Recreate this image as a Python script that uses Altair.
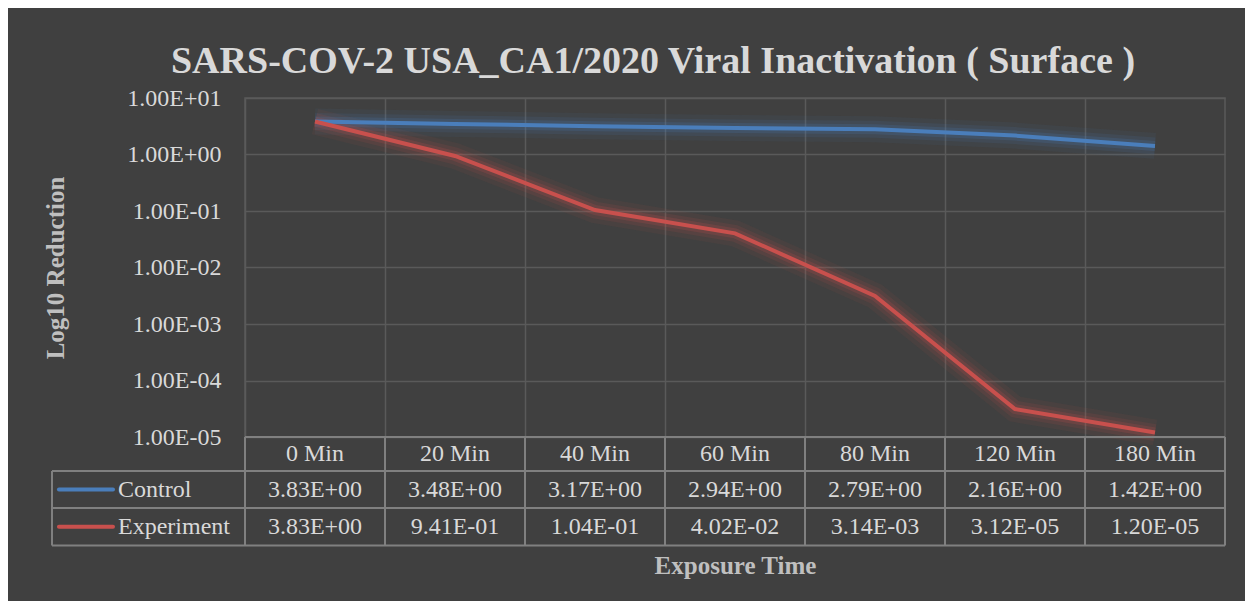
import json
import altair as alt
import pandas as pd

# ---------------- data ----------------
categories = ["0 Min", "20 Min", "40 Min", "60 Min", "80 Min", "120 Min", "180 Min"]
control = [3.83, 3.48, 3.17, 2.94, 2.79, 2.16, 1.42]
experiment = [3.83, 0.941, 0.104, 0.0402, 0.00314, 3.12e-5, 1.20e-5]
series_names = ["Control", "Experiment"]
series_colors = ["#4a7ebb", "#c8504d"]
tick_values = [1e-5, 1e-4, 1e-3, 1e-2, 1e-1, 1, 10]
tick_labels = ["1.00E-05", "1.00E-04", "1.00E-03", "1.00E-02", "1.00E-01", "1.00E+00", "1.00E+01"]
chart_title = "SARS-COV-2 USA_CA1/2020 Viral Inactivation ( Surface )"
x_title = "Exposure Time"
y_title = "Log10 Reduction"

# ---------------- style / layout ----------------
FONT = "Liberation Serif"
BG = "#404040"
TXT = "#d9d9d9"
TITLE_TXT = "#bfbfbf"
GRID = "#5a5a5a"
TABLE_LINE = "#808080"
W, H = 980, 339
LEG_W = 193
ROW_PX = [0, 34, 71, 108.5]          # table row boundaries below plot (px)
SW_X0, SW_X1, LABEL_X = -0.964, -0.684, -0.658

series_values = [control, experiment]
rows = []
for name, vals in zip(series_names, series_values):
    for c, v in zip(categories, vals):
        rows.append({"category": c, "series": name, "value": v})
df = pd.DataFrame(rows)

color_scale = alt.Scale(domain=series_names, range=series_colors)

x_enc = alt.X(
    "category:N",
    sort=categories,
    scale=alt.Scale(type="band", domain=categories, paddingInner=0, paddingOuter=0),
    axis=alt.Axis(
        title=x_title, labels=False, ticks=False, domain=False,
        grid=True, bandPosition=0, gridColor=GRID, gridWidth=1.5,
        titleFont=FONT, titleFontSize=25, titleFontWeight="bold", titleColor=TITLE_TXT,
        titleBaseline="alphabetic", titleY=136,
    ),
)
label_expr = f"{json.dumps(tick_labels)}[indexof({json.dumps(tick_values)}, datum.value)]"
y_enc = alt.Y(
    "value:Q",
    scale=alt.Scale(type="log", domain=[1e-5, 10], nice=False),
    axis=alt.Axis(
        values=tick_values, labelExpr=label_expr,
        grid=True, gridColor=GRID, gridWidth=1.5, domain=False, ticks=False,
        labelFont=FONT, labelFontSize=24, labelColor=TXT, labelPadding=24,
        labelBaseline="middle",
        title=y_title, titleFont=FONT, titleFontSize=25, titleFontWeight="bold",
        titleColor=TITLE_TXT, titleBaseline="alphabetic", titleX=-182, titleAngle=-90,
    ),
)
c_enc = alt.Color("series:N", scale=color_scale, legend=None)

base = alt.Chart(df).encode(x=x_enc, y=y_enc, color=c_enc, detail="series:N")
glow1 = base.mark_line(strokeWidth=26, opacity=0.07)
glow2 = base.mark_line(strokeWidth=17, opacity=0.11)
glow3 = base.mark_line(strokeWidth=10, opacity=0.18)
lines = base.mark_line(strokeWidth=4)
plot_layer = alt.layer(glow1, glow2, glow3, lines)

# ---------------- data table below the plot ----------------
n = len(categories)
tx = alt.Scale(domain=[-1, 0, n], range=[-LEG_W, 0, W], nice=False, zero=False)
ty = alt.Scale(domain=[0, 1, 2, 3], range=[H + p for p in ROW_PX], nice=False, zero=False)

cells = []
for i, c in enumerate(categories):
    cells.append({"x": i + 0.5, "row": 0.5, "text": c})
for r, vals in enumerate(series_values, start=1):
    for i, v in enumerate(vals):
        cells.append({"x": i + 0.5, "row": r + 0.5, "text": f"{v:.2E}"})
cells_df = pd.DataFrame(cells)

labels_df = pd.DataFrame(
    [{"x": LABEL_X, "row": r + 0.5, "text": s} for r, s in enumerate(series_names, start=1)]
)
swatch_df = pd.DataFrame(
    [{"x": SW_X0, "x2": SW_X1, "row": r + 0.5, "series": s} for r, s in enumerate(series_names, start=1)]
)
segs = [{"x": 0, "x2": n, "y": 0, "y2": 0}]
for r in range(1, len(series_names) + 2):
    segs.append({"x": -1, "x2": n, "y": r, "y2": r})
segs.append({"x": -1, "x2": -1, "y": 1, "y2": len(series_names) + 1})
for i in range(n + 1):
    segs.append({"x": i, "x2": i, "y": 0, "y2": len(series_names) + 1})
segs_df = pd.DataFrame(segs)

table_lines = alt.Chart(segs_df).mark_rule(color=TABLE_LINE, strokeWidth=2).encode(
    x=alt.X("x:Q", scale=tx, axis=None),
    x2="x2:Q",
    y=alt.Y("y:Q", scale=ty, axis=None),
    y2="y2:Q",
)
table_text = alt.Chart(cells_df).mark_text(
    font=FONT, fontSize=24, color=TXT, align="center", baseline="middle"
).encode(
    x=alt.X("x:Q", scale=tx, axis=None),
    y=alt.Y("row:Q", scale=ty, axis=None),
    text="text:N",
)
row_labels = alt.Chart(labels_df).mark_text(
    font=FONT, fontSize=24, color=TXT, align="left", baseline="middle"
).encode(
    x=alt.X("x:Q", scale=tx, axis=None),
    y=alt.Y("row:Q", scale=ty, axis=None),
    text="text:N",
)
swatches = alt.Chart(swatch_df).mark_rule(strokeWidth=4, strokeCap="round").encode(
    x=alt.X("x:Q", scale=tx, axis=None),
    x2="x2:Q",
    y=alt.Y("row:Q", scale=ty, axis=None),
    color=c_enc,
)
table_layer = alt.layer(table_lines, table_text, row_labels, swatches)

chart = (
    alt.layer(plot_layer, table_layer)
    .resolve_scale(x="independent", y="independent")
    .properties(
        width=W,
        height=H,
        background=BG,
        padding={"left": 237, "top": 90, "right": 20, "bottom": 164},
        autosize=alt.AutoSizeParams(type="none"),
        title=alt.TitleParams(
            text=chart_title, font=FONT, fontSize=38, fontWeight="bold",
            color=TXT, anchor="middle", dx=-82, offset=-11,
        ),
    )
    .configure_view(stroke=GRID, strokeWidth=1.5)
)

chart.save("out.html", embed_options={"renderer": "svg", "actions": False})
